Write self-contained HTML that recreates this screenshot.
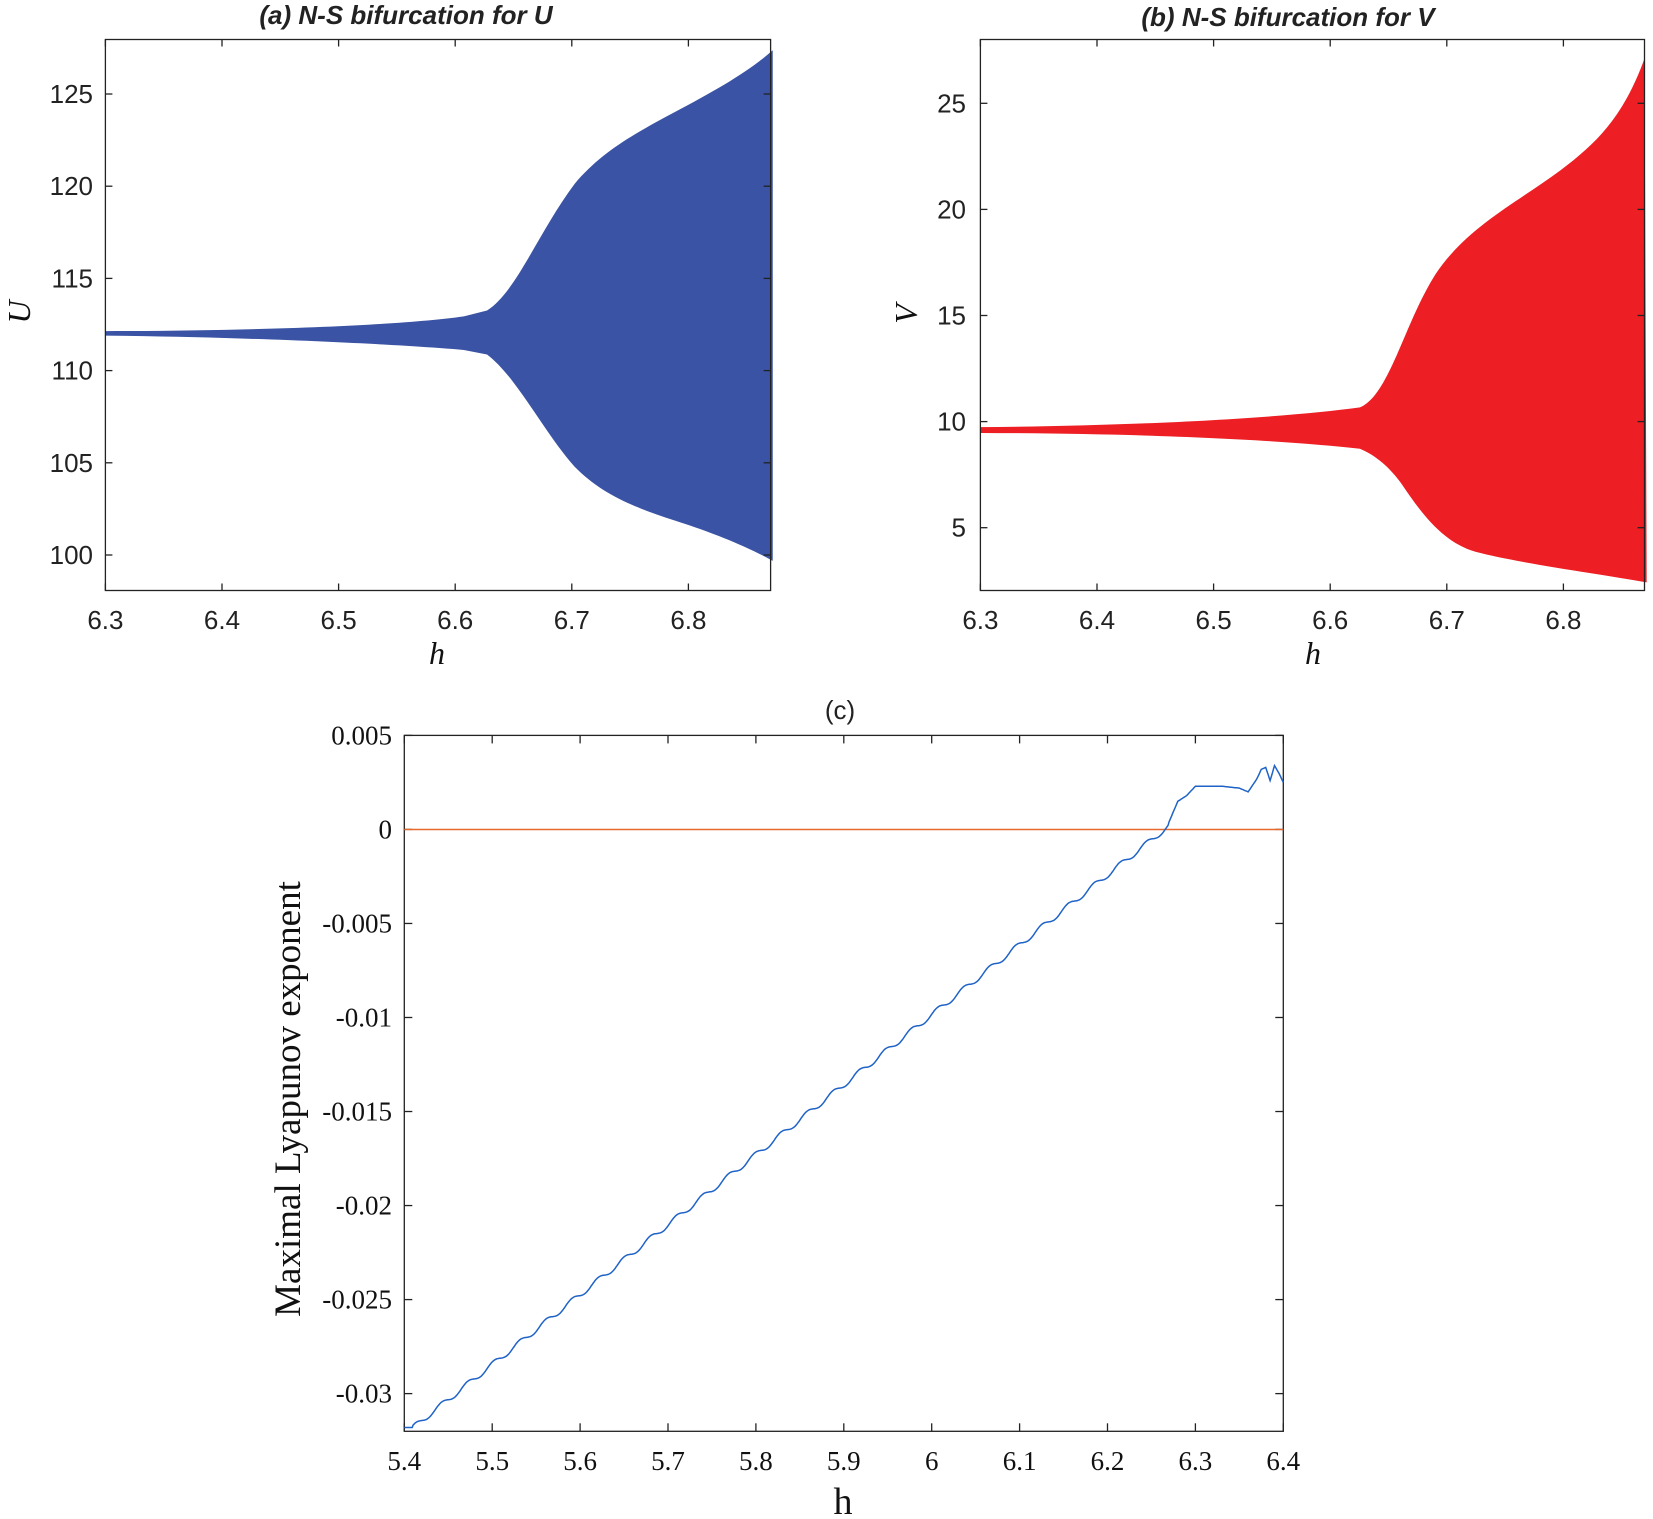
<!DOCTYPE html>
<html><head><meta charset="utf-8"><style>
html,body{margin:0;padding:0;background:#fff;}
svg{display:block}
.t{font-family:"Liberation Sans",Arial,sans-serif;font-size:26px;fill:#222}
.s{font-family:"Liberation Serif",serif;fill:#111}
</style></head><body>
<svg id="s" width="1653" height="1519" viewBox="0 0 1653 1519" xmlns="http://www.w3.org/2000/svg">
<rect width="1653" height="1519" fill="#fff"/>
<g transform="scale(1.0542,0.4487)">
<path fill="#3a53a4" d="M100,738 C250,737 380,725 440,705 L462,692 C490,650 510,520 545,410 C570,340 600,300 640,250 C680,200 710,160 733,112 L733,1250 C710,1220 680,1190 640,1160 C600,1130 570,1100 545,1040 C515,960 490,840 462,790 L440,780 C380,768 250,752 100,748 Z"/>
<path fill="#ed1f24" d="M930,952 C1100,948 1220,930 1290,908 C1318,880 1332,720 1362,610 C1392,505 1440,450 1480,380 C1515,318 1540,260 1560,130 L1562,1298 C1520,1280 1440,1255 1400,1230 C1370,1210 1350,1150 1330,1080 C1315,1030 1300,1010 1290,1000 C1220,982 1100,966 930,965 Z"/>
</g>
<g id="axes" fill="none" stroke="#222" stroke-width="1.3"></g>
<text class="t" x="406" y="24" font-size="28" text-anchor="middle" font-weight="bold" font-style="italic">(a) N-S bifurcation for U</text>
<text class="t" x="1288" y="26" font-size="28" text-anchor="middle" font-weight="bold" font-style="italic">(b) N-S bifurcation for V</text>
<text class="s" x="437" y="664" font-size="32" font-style="italic" text-anchor="middle">h</text>
<text class="s" x="1313" y="664" font-size="32" font-style="italic" text-anchor="middle">h</text>
<text class="s" font-size="32" font-style="italic" text-anchor="middle" transform="translate(30,312) rotate(-90)">U</text>
<text class="s" font-size="32" font-style="italic" text-anchor="middle" transform="translate(917,314) rotate(-90)">V</text>
<text class="t" x="840" y="719" font-size="20" text-anchor="middle">(c)</text>
<text class="s" font-size="37" text-anchor="middle" transform="translate(300,1099) rotate(-90)">Maximal Lyapunov exponent</text>
<text class="s" x="843" y="1514" font-size="38" text-anchor="middle">h</text>
<line x1="404.3" x2="1283.3" y1="829.5" y2="829.5" stroke="#e8692d" stroke-width="1.6"/>
<path id="lc" fill="none" stroke="#1f63c6" stroke-width="1.5"/>
<g id="lbl"></g>
</svg>
<script>
var ax=document.getElementById('axes'),lb=document.getElementById('lbl'),NS='http://www.w3.org/2000/svg';
function el(p,t,a,txt){var e=document.createElementNS(NS,t);for(var k in a)e.setAttribute(k,a[k]);if(txt!==undefined)e.textContent=txt;p.appendChild(e);return e;}
function box(x0,y0,x1,y1){el(ax,'rect',{x:x0,y:y0,width:x1-x0,height:y1-y0});}
function vt(x,y0,y1,L){el(ax,'line',{x1:x,x2:x,y1:y1,y2:y1-L});el(ax,'line',{x1:x,x2:x,y1:y0,y2:y0+L});}
function ht(y,x0,x1,L){el(ax,'line',{x1:x0,x2:x0+L,y1:y,y2:y});el(ax,'line',{x1:x1,x2:x1-L,y1:y,y2:y});}
box(105.4,39.5,770.6,590.5);
for(var i=0;i<6;i++){var x=105.4+i*116.6;vt(x,39.5,590.5,7);el(lb,'text',{'class':'t',x:x,y:629,'text-anchor':'middle'},(6.3+i*0.1).toFixed(1));}
for(var i=0;i<6;i++){var y=555-i*92.2;ht(y,105.4,770.6,7);el(lb,'text',{'class':'t',x:93,y:y+9,'text-anchor':'end'},100+i*5);}
box(980.4,39.5,1644.5,590.5);
for(var i=0;i<6;i++){var x=980.4+i*116.6;vt(x,39.5,590.5,7);el(lb,'text',{'class':'t',x:x,y:629,'text-anchor':'middle'},(6.3+i*0.1).toFixed(1));}
for(var i=0;i<5;i++){var y=527.7-i*106.1;ht(y,980.4,1644.5,7);el(lb,'text',{'class':'t',x:966,y:y+9,'text-anchor':'end'},5+i*5);}
box(404.3,735.4,1283.3,1431.3);
var hx=['5.4','5.5','5.6','5.7','5.8','5.9','6','6.1','6.2','6.3','6.4'];
for(var i=0;i<11;i++){var x=404.3+i*87.9;vt(x,735.4,1431.3,8);el(lb,'text',{'class':'s',x:x,y:1470,'font-size':27,'text-anchor':'middle'},hx[i]);}
var hy=['0.005','0','-0.005','-0.01','-0.015','-0.02','-0.025','-0.03'];
for(var i=0;i<8;i++){var y=735.4+i*94.03;ht(y,404.3,1283.3,8);el(lb,'text',{'class':'s',x:392,y:y+9,'font-size':27,'text-anchor':'end'},hy[i]);}
function X(h){return 404.3+(h-5.4)*879;}function Y(v){return 829.5-v/0.005*94.03;}
var d='';var P=0.0297;
for(var h=5.4;h<=6.4001;h+=0.001){
 var v;
 var hh=h-0.85*Math.sin(2*Math.PI*(h-5.42)/P)*P/(2*Math.PI);
 var lin=-0.0318+0.0372*(hh-5.41);
 if(h<5.41)lin=-0.0318;
 if(h<6.27)v=lin;
 else{
  var pts=[[6.27,0.0004],[6.28,0.0015],[6.29,0.0018],[6.30,0.0023],[6.33,0.0023],[6.35,0.0022],[6.36,0.0020],[6.37,0.0027],[6.375,0.0032],[6.38,0.0033],[6.385,0.0026],[6.39,0.0034],[6.395,0.0030],[6.4,0.0025]];
  v=pts[pts.length-1][1];
  for(var k=0;k<pts.length-1;k++){if(h>=pts[k][0]&&h<=pts[k+1][0]){var t=(h-pts[k][0])/(pts[k+1][0]-pts[k][0]);v=pts[k][1]+t*(pts[k+1][1]-pts[k][1]);break;}}
 }
 d+=(d?'L':'M')+X(h).toFixed(1)+','+Y(v).toFixed(1);
}
document.getElementById('lc').setAttribute('d',d);
</script>
</body></html>
